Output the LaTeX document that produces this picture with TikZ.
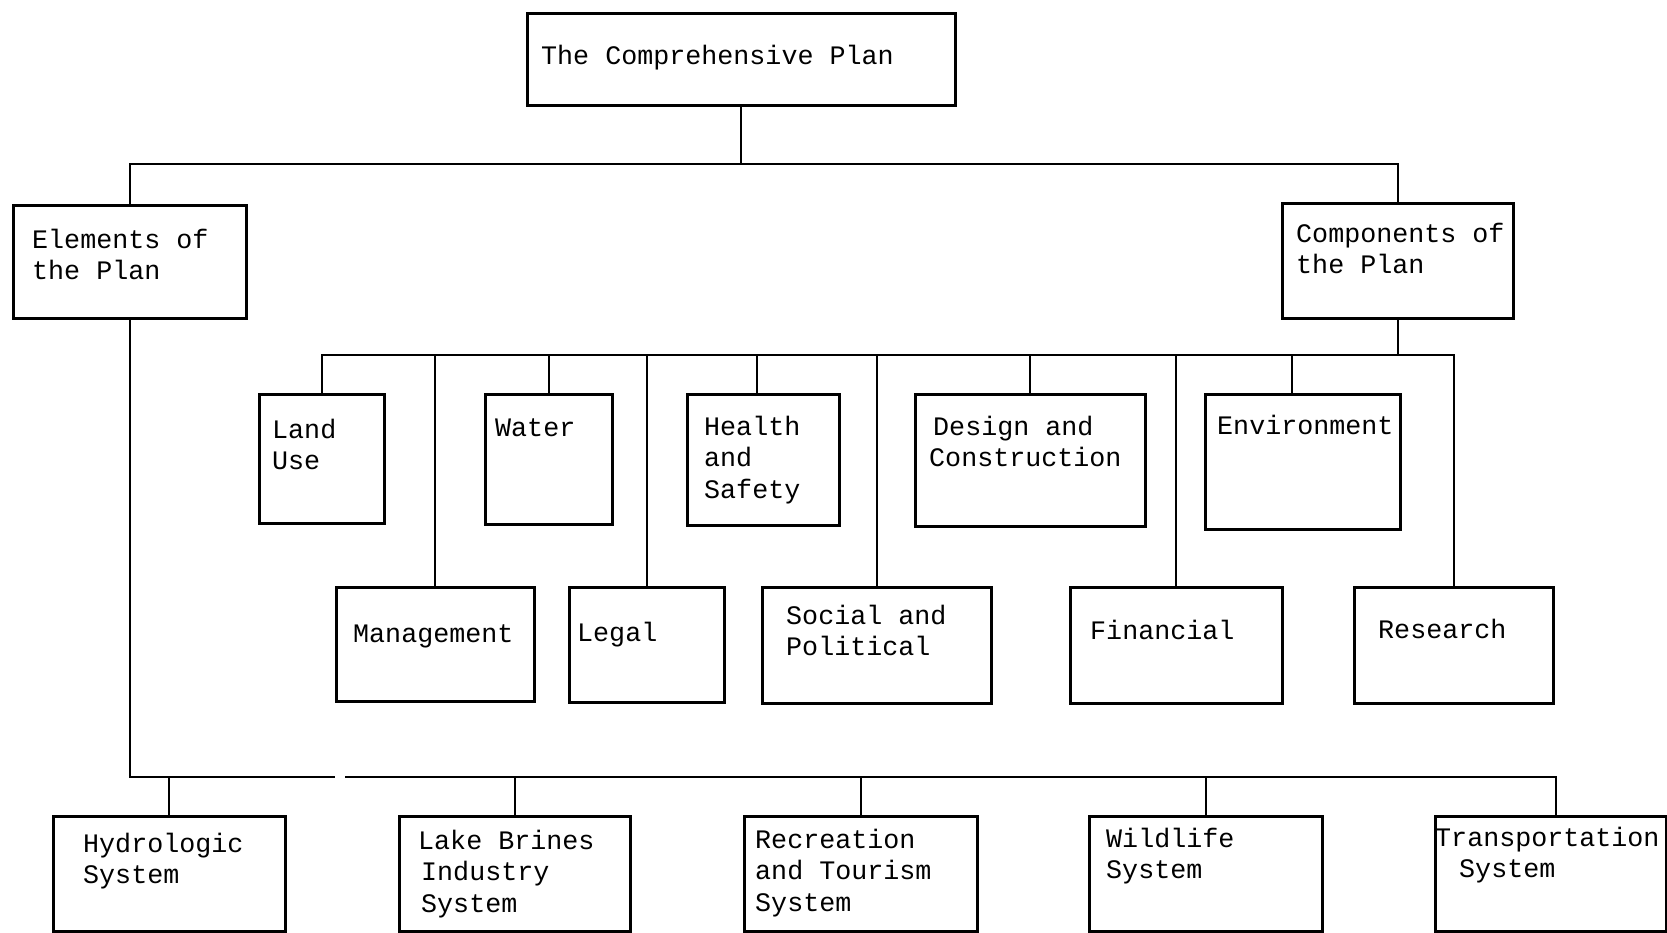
\documentclass[tikz,border=0pt]{standalone}
\usepackage{fontspec}
\newfontfamily\typewriter{Liberation Mono}
\usepackage{tikz}

\begin{document}
\begin{tikzpicture}[
    x=1pt, y=-1pt,
    box/.style={draw, line width=2.8pt, inner sep=0, anchor=north west},
    lbl/.style={font=\typewriter\fontsize{26.7}{31.6}\selectfont, align=left, anchor=base west, inner sep=0},
    link/.style={line width=2pt}
]
	\useasboundingbox (0,0) rectangle (1667,932);

	% top level (labels sit on the baseline of their last line)
	\node[box, minimum width=428, minimum height=92] (plan) at (526,12) {};
	\node[lbl] (plantxt) at (541,64) {The Comprehensive Plan};

	\node[box, minimum width=233, minimum height=113] (elements) at (12,204) {};
	\node[lbl] (elemtxt) at (32,279.6) {Elements of\\the Plan};
	\node[box, minimum width=231, minimum height=115] (components) at (1281,202) {};
	\node[lbl] (comptxt) at (1296,273.6) {Components of\\the Plan};

	% components, upper row
	\node[box, minimum width=125, minimum height=129] (landuse) at (258,393) {};
	\node[lbl] at (272,469.6) {Land\\Use};
	\node[box, minimum width=127, minimum height=130] (water) at (484,393) {};
	\node[lbl] at (495,436) {Water};
	\node[box, minimum width=152, minimum height=131] (health) at (686,393) {};
	\node[lbl] at (704,498.2) {Health\\and\\Safety};
	\node[box, minimum width=230, minimum height=132] (design) at (914,393) {};
	\node[lbl] at (929,466.6) {\hspace*{4pt}Design and\\Construction};
	\node[box, minimum width=195, minimum height=135] (environment) at (1204,393) {};
	\node[lbl] at (1217,434) {Environment};

	% components, lower row
	\node[box, minimum width=198, minimum height=114] (management) at (335,586) {};
	\node[lbl] at (353,642) {Management};
	\node[box, minimum width=155, minimum height=115] (legal) at (568,586) {};
	\node[lbl] at (577,641) {Legal};
	\node[box, minimum width=229, minimum height=116] (social) at (761,586) {};
	\node[lbl] at (786,655.6) {Social and\\Political};
	\node[box, minimum width=212, minimum height=116] (financial) at (1069,586) {};
	\node[lbl] at (1090,639) {Financial};
	\node[box, minimum width=199, minimum height=116] (research) at (1353,586) {};
	\node[lbl] at (1378,638) {Research};

	% elements
	\node[box, minimum width=232, minimum height=115] (hydro) at (52,815) {};
	\node[lbl] at (83,883.6) {Hydrologic\\System};
	\node[box, minimum width=231, minimum height=115] (brines) at (398,815) {};
	\node[lbl] at (418,912.2) {Lake Brines\\\hspace*{3pt}Industry\\\hspace*{3pt}System};
	\node[box, minimum width=233, minimum height=115] (recreation) at (743,815) {};
	\node[lbl] at (755,911.2) {Recreation\\and Tourism\\System};
	\node[box, minimum width=233, minimum height=115] (wildlife) at (1088,815) {};
	\node[lbl] at (1106,878.6) {Wildlife\\System};
	\node[box, minimum width=231, minimum height=115] (transport) at (1434,815) {};
	\node[lbl] at (1435,877.6) {Transportation\\\hspace*{24pt}System};

	% connectors
	\coordinate (topbus) at (plan.south |- 0,164);
	\coordinate (cbus) at (components.south |- 0,355);
	\coordinate (ebus) at (elements.south |- 0,777);
	\coordinate (gapl) at (335,777);
	\coordinate (gapr) at (345,777);
	\coordinate (healthtop) at ([xshift=-6]health.north);
	\coordinate (envtop) at ([xshift=-11]environment.north);
	\coordinate (transtop) at ([xshift=5]transport.north);

	\draw[link] (plan.south) -- (topbus);
	\draw[link] (elements.north) |- (topbus) -| (components.north);

	\draw[link] (components.south) -- (cbus);
	\draw[link] (landuse.north) |- (cbus) -| (research.north);
	\foreach \n in {water.north, healthtop, design.north, envtop, management.north, legal.north, social.north, financial.north}
		\draw[link] (\n) -- (\n |- cbus);

	\draw[link] (elements.south) -- (ebus) -- (gapl);
	\draw[link] (gapr) -| (transtop);
	\foreach \n in {hydro, brines, recreation, wildlife}
		\draw[link] (\n.north) -- (\n.north |- ebus);
\end{tikzpicture}
\end{document}
